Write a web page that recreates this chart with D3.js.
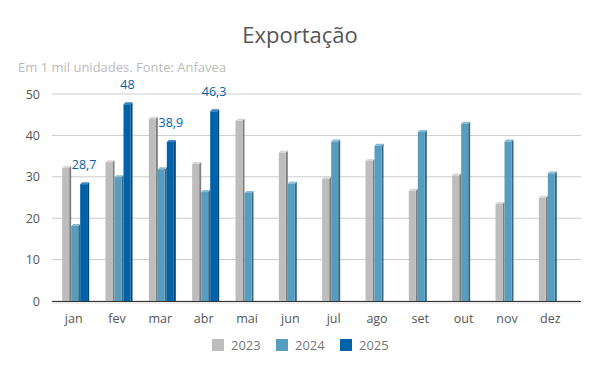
<!DOCTYPE html>
<html>
<head>
<meta charset="utf-8">
<script src="https://cdn.jsdelivr.net/npm/d3@7"></script>
<style>
  body { margin: 0; background: #fff; }
  svg { font-family: "Open Sans", sans-serif; }
</style>
</head>
<body>
<svg id="chart"></svg>
<script>
// Data
const months = ["jan", "fev", "mar", "abr", "mai", "jun", "jul", "ago", "set", "out", "nov", "dez"];
const years = ["2023", "2024", "2025"];
const v2023 = [32.6, 34.0, 44.5, 33.6, 44.0, 36.3, 30.0, 34.3, 27.1, 30.8, 23.9, 25.4];
const v2024 = [18.6, 30.4, 32.3, 26.8, 26.6, 28.8, 39.0, 38.0, 41.3, 43.3, 39.0, 31.3];
const v2025 = [28.7, 48.0, 38.9, 46.3];
const labels2025 = ["28,7", "48", "38,9", "46,3"];
const yTicks = [0, 10, 20, 30, 40, 50];

const W = 600, H = 371;
const svg = d3.select("#chart").attr("width", W).attr("height", H);

const colors = {
  "2023": { face: "#bdbdbd", side: "#7f7f7f", top: "#d6d6d6" },
  "2024": { face: "#579dbf", side: "#376a82", top: "#86bcd6" },
  "2025": { face: "#0062a8", side: "#004577", top: "#3a86c4" }
};

// Title
svg.append("text")
  .attr("x", 300).attr("y", 43)
  .attr("text-anchor", "middle")
  .attr("font-size", 22)
  .attr("fill", "#555")
  .text("Exportação");

svg.append("text")
  .attr("x", 18).attr("y", 72)
  .attr("font-size", 13)
  .attr("fill", "#bbb")
  .text("Em 1 mil unidades. Fonte: Anfavea");

// Scales
const x = d3.scaleBand().domain(months).range([54, 574]);
const y = d3.scaleLinear().domain([0, 50]).range([301, 94]);
const xs = d3.scaleBand().domain(years).range([0, 27]);

// Gridlines
svg.append("g")
  .selectAll("line")
  .data(yTicks)
  .enter().append("line")
  .attr("x1", 52).attr("x2", 581)
  .attr("y1", d => y(d)).attr("y2", d => y(d))
  .attr("stroke", "#ccc").attr("stroke-width", 1);

// Y axis labels
svg.append("g")
  .attr("transform", "translate(40,0)")
  .call(d3.axisLeft(y).tickValues(yTicks).tickSize(0).tickPadding(0))
  .call(g => g.select(".domain").remove())
  .call(g => g.selectAll("text").attr("font-size", 12.5).attr("fill", "#555").attr("font-family", "Open Sans"));

// X axis labels
svg.append("g")
  .attr("transform", "translate(-2,310)")
  .call(d3.axisBottom(x).tickSize(0).tickPadding(4))
  .call(g => g.select(".domain").remove())
  .call(g => g.selectAll("text").attr("font-size", 12.5).attr("fill", "#555").attr("font-family", "Open Sans"));

// Bars (pseudo 3D)
const series = [
  { year: "2023", values: v2023 },
  { year: "2024", values: v2024 },
  { year: "2025", values: v2025 }
];
const faceW = 7, depth = 2;

series.forEach(s => {
  const c = colors[s.year];
  const g = svg.append("g");
  const data = s.values.map((v, i) => ({ m: months[i], v: v }));
  const bx = d => x(d.m) + (x.bandwidth() - 27) / 2 + xs(s.year);
  const ft = d => y(d.v) + depth; // face top, cap reaches y(v)
  // side
  g.selectAll(".side").data(data).enter().append("path")
    .attr("fill", c.side)
    .attr("d", d => {
      const x0 = bx(d) + faceW, t = ft(d);
      return `M${x0},${t}L${x0 + depth},${t - depth}L${x0 + depth},${y(0)}L${x0},${y(0)}Z`;
    });
  // top
  g.selectAll(".top").data(data).enter().append("path")
    .attr("fill", c.top)
    .attr("d", d => {
      const x0 = bx(d), t = ft(d);
      return `M${x0},${t}L${x0 + depth},${t - depth}L${x0 + faceW + depth},${t - depth}L${x0 + faceW},${t}Z`;
    });
  // face
  g.selectAll(".face").data(data).enter().append("rect")
    .attr("fill", c.face)
    .attr("x", d => bx(d))
    .attr("y", d => ft(d))
    .attr("width", faceW)
    .attr("height", d => y(0) - ft(d));
});

// Data labels for 2025
svg.append("g").selectAll("text")
  .data(v2025)
  .enter().append("text")
  .attr("x", (d, i) => x(months[i]) + (x.bandwidth() - 27) / 2 + xs("2025") + 4)
  .attr("y", d => y(d) - 13)
  .attr("text-anchor", "middle")
  .attr("font-size", 12.5)
  .attr("fill", "#0062a8")
  .text((d, i) => labels2025[i]);

// Baseline
svg.append("line")
  .attr("x1", 52).attr("x2", 581)
  .attr("y1", y(0) + 0.5).attr("y2", y(0) + 0.5)
  .attr("stroke", "#333").attr("stroke-width", 1);
svg.append("rect")
  .attr("x", 52).attr("y", y(0) + 1)
  .attr("width", 529).attr("height", 2)
  .attr("fill", "#eee");

// Legend
const legend = svg.append("g").attr("transform", "translate(212,345)");
years.forEach((yr, i) => {
  const lg = legend.append("g").attr("transform", `translate(${i * 64},0)`);
  lg.append("rect").attr("x", 0).attr("y", -6).attr("width", 12).attr("height", 12)
    .attr("fill", colors[yr].face);
  lg.append("text").attr("x", 19).attr("y", 5)
    .attr("font-size", 13).attr("fill", "#777").text(yr);
});
</script>
</body>
</html>
